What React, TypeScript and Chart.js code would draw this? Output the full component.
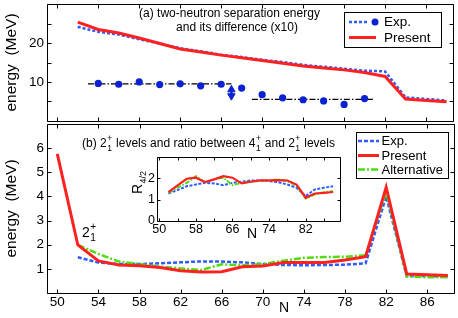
import React, { useEffect, useRef } from 'react';
import { Chart, registerables } from 'chart.js';
Chart.register(...registerables);

const FONT = '"Liberation Sans", Arial, Helvetica, sans-serif';
const RED = '#ff2020';
const BLUE = '#2f5bff';
const DOT = '#0c22d2';
const GREEN = '#4fdc12';

// ---- panel (a): two-neutron separation energy ----
const nS2n = [52, 54, 56, 58, 60, 62, 64, 66, 68, 70, 72, 74, 76, 78, 80, 82, 84, 86, 88];
const s2nExp = [24.2, 22.9, 22.2, 21.0, 19.9, 18.7, 17.9, 17.0, 16.4, 15.7, 15.1, 14.4, 13.9, 13.4, 12.9, 12.7, 6.0, 5.6, 5.2];
const s2nPresent = [25.4, 23.5, 22.6, 21.3, 19.9, 18.5, 17.7, 16.9, 16.2, 15.5, 14.8, 14.1, 13.6, 13.1, 12.4, 11.4, 5.6, 5.2, 4.9];
const nDiff = [54, 56, 58, 60, 62, 64, 66, 68, 70, 72, 74, 76, 78, 80];
const diffExp = [9.6, 9.4, 10.0, 9.3, 9.5, 9.0, 9.4, 8.4, 6.7, 5.9, 5.4, 5.1, 4.2, 5.7];
const plateau1N = [53, 67];
const plateau1Y = [9.5, 9.5];
const plateau2N = [69, 81];
const plateau2Y = [5.5, 5.5];
const arrowN = [67, 67];
const arrowY = [8.0, 6.4];

// ---- panel (b): 2+ levels ----
const nE2Present = [50, 52, 54, 56, 58, 60, 62, 64, 66, 68, 70, 72, 74, 76, 78, 80, 82, 84, 86, 88];
const e2Present = [5.76, 1.99, 1.33, 1.16, 1.13, 1.06, 0.92, 0.87, 0.88, 1.09, 1.12, 1.26, 1.26, 1.26, 1.37, 1.5, 4.38, 0.79, 0.76, 0.72];
const nE2 = [52, 54, 56, 58, 60, 62, 64, 66, 68, 70, 72, 74, 76, 78, 80, 82, 84, 86, 88];
const e2Exp = [1.48, 1.26, 1.2, 1.2, 1.23, 1.27, 1.31, 1.3, 1.27, 1.2, 1.16, 1.15, 1.16, 1.17, 1.23, 4.0, 0.7, 0.7, 0.68];
const e2Alt = [1.99, 1.62, 1.3, 1.2, 1.09, 1.02, 0.95, 1.19, 1.15, 1.2, 1.34, 1.46, 1.49, 1.5, 1.56, 4.2, 0.68, 0.65, 0.65];

// ---- inset: R4/2 ----
const nR = [52, 54, 56, 58, 60, 62, 64, 66, 68, 70, 72, 74, 76, 78, 80, 82, 84, 86, 88];
const rExp = [1.29, 1.45, 1.63, 1.71, 1.79, 1.76, 1.68, 1.79, 1.84, 1.9, 1.9, 1.87, 1.82, 1.71, 1.56, 1.17, 1.48, 1.56, 1.63];
const rPresent = [1.35, 1.67, 1.98, 2.03, 1.82, 1.95, 2.1, 2.03, 1.76, 1.84, 1.9, 1.9, 1.92, 1.9, 1.71, 1.09, 1.29, 1.32, 1.36];
const rAlt = [1.32, 1.56, 1.79, 2.1, 1.82, 1.95, 2.03, 1.68, 1.79, 1.84, 1.88, 1.9, 1.95, 1.87, 1.66, 1.05, 1.25, 1.35, 1.4];

// ---- ticks ----
const xTicksMain = [50, 54, 58, 62, 66, 70, 74, 78, 82, 86];
const yTicksTop = [0, 5, 10, 15, 20, 25, 30];
const yLabelsTop = [10, 20];
const yTicksBottom = [0, 1, 2, 3, 4, 5, 6, 7];
const yLabelsBottom = [1, 2, 3, 4, 5, 6];
const xTicksInset = [50, 54, 58, 62, 66, 70, 74, 78, 82, 86];
const xLabelsInset = [50, 58, 66, 74, 82];
const yTicksInset = [0, 1, 2, 3];
const yLabelsInset = [0, 1, 2];

const xy = (xs: number[], ys: number[]) => xs.map((x, i) => ({ x, y: ys[i] }));

function framePlugin(xTicks: number[], yTicks: number[], tl: number) {
  return {
    id: 'frame' + Math.random(),
    afterDatasetsDraw(chart: any) {
      const { ctx, chartArea: a, scales } = chart;
      const c = (v: number) => Math.round(v) + 0.5;
      ctx.save();
      ctx.strokeStyle = '#000';
      ctx.lineWidth = 1;
      ctx.setLineDash([]);
      const L = c(a.left), R = c(a.right), T = c(a.top), B = c(a.bottom);
      ctx.beginPath();
      ctx.moveTo(L, T); ctx.lineTo(R, T); ctx.lineTo(R, B); ctx.lineTo(L, B); ctx.closePath();
      for (const t of xTicks) {
        const px = c(scales.x.getPixelForValue(t));
        ctx.moveTo(px, B); ctx.lineTo(px, B - tl);
        ctx.moveTo(px, T); ctx.lineTo(px, T + tl);
      }
      for (const t of yTicks) {
        const py = c(scales.y.getPixelForValue(t));
        ctx.moveTo(L, py); ctx.lineTo(L + tl, py);
        ctx.moveTo(R, py); ctx.lineTo(R - tl, py);
      }
      ctx.stroke();
      ctx.restore();
    },
  };
}

type Part = string | { sup: string; sub: string };
function drawRich(ctx: CanvasRenderingContext2D, x: number, y: number, parts: Part[], size: number) {
  let cx = x;
  ctx.textAlign = 'left';
  ctx.textBaseline = 'alphabetic';
  for (const p of parts) {
    if (typeof p === 'string') {
      ctx.font = `${size}px ${FONT}`;
      ctx.fillText(p, cx, y);
      cx += ctx.measureText(p).width;
    } else {
      ctx.font = `${size * 0.72}px ${FONT}`;
      ctx.fillText(p.sup, cx + 0.5, y - size * 0.5);
      ctx.fillText(p.sub, cx + 0.5, y + size * 0.3);
      cx += Math.max(ctx.measureText(p.sup).width, ctx.measureText(p.sub).width) + 1;
    }
  }
}

function drawLegend(ctx: CanvasRenderingContext2D, box: number[], items: any[], size: number) {
  const [x0, y0, x1, y1] = box;
  ctx.save();
  ctx.fillStyle = '#fff';
  ctx.fillRect(x0, y0, x1 - x0, y1 - y0);
  ctx.strokeStyle = '#000';
  ctx.lineWidth = 1;
  ctx.setLineDash([]);
  ctx.strokeRect(Math.round(x0) + 0.5, Math.round(y0) + 0.5, Math.round(x1 - x0), Math.round(y1 - y0));
  for (const it of items) {
    ctx.strokeStyle = it.color;
    ctx.lineWidth = it.width;
    ctx.setLineDash(it.dash);
    ctx.beginPath();
    ctx.moveTo(it.lx0, it.y);
    ctx.lineTo(it.lx1, it.y);
    ctx.stroke();
    if (it.dot) {
      ctx.fillStyle = it.dot;
      ctx.beginPath();
      ctx.arc(it.dotX, it.y, 3.5, 0, Math.PI * 2);
      ctx.fill();
    }
    ctx.setLineDash([]);
    ctx.fillStyle = '#000';
    ctx.font = `${size}px ${FONT}`;
    ctx.textAlign = 'left';
    ctx.textBaseline = 'middle';
    ctx.fillText(it.text, it.tx, it.y + 0.5);
  }
  ctx.restore();
}

const tickFont = { family: FONT, size: 13.5 };

export default function App() {
  const topRef = useRef<HTMLCanvasElement>(null);
  const botRef = useRef<HTMLCanvasElement>(null);
  const insRef = useRef<HTMLCanvasElement>(null);

  useEffect(() => {
    const charts: Chart[] = [];
    const TOP_OFF = -1;
    const BOT_OFF = 118;
    const INS_X = 120, INS_Y = 150;

    // ---------- top panel ----------
    charts.push(
      new Chart(topRef.current as HTMLCanvasElement, {
        type: 'line',
        data: {
          datasets: [
            { label: 'Present', data: xy(nS2n, s2nPresent), borderColor: RED, borderWidth: 3, pointRadius: 0 },
            { label: 'Exp.', data: xy(nS2n, s2nExp), borderColor: BLUE, borderWidth: 2.5, borderDash: [3, 2], pointRadius: 0 },
            {
              label: 'arrow', data: xy(arrowN, arrowY), borderColor: DOT, backgroundColor: DOT, borderWidth: 2.5,
              pointStyle: 'triangle', pointRotation: [0, 180], pointRadius: 4.3, pointBorderWidth: 1, showLine: true,
            },
            {
              label: 'diff', data: xy(nDiff, diffExp), showLine: false, pointRadius: 3.6,
              pointBackgroundColor: DOT, pointBorderColor: DOT, pointBorderWidth: 0,
            },
            { label: 'p1', data: xy(plateau1N, plateau1Y), borderColor: '#000', borderWidth: 1.2, borderDash: [6, 2, 1.5, 2], pointRadius: 0 },
            { label: 'p2', data: xy(plateau2N, plateau2Y), borderColor: '#000', borderWidth: 1.2, borderDash: [6, 2, 1.5, 2], pointRadius: 0 },
          ] as any,
        },
        options: {
          responsive: false,
          animation: false,
          devicePixelRatio: 1,
          layout: { padding: { top: 0, right: 4, bottom: 2, left: 0 } },
          plugins: { legend: { display: false }, tooltip: { enabled: false }, title: { display: false } },
          elements: { line: { tension: 0 } },
          scales: {
            x: { type: 'linear', min: 49, max: 88.6, display: false },
            y: {
              type: 'linear', min: 0, max: 30,
              afterBuildTicks: (s: any) => { s.ticks = yTicksTop.map((v) => ({ value: v })); },
              afterFit: (s: any) => { s.width = 47; s.paddingTop = 0; s.paddingBottom = 0; },
              ticks: {
                autoSkip: false, padding: 3, color: '#000', font: tickFont,
                callback: (v: any) => (yLabelsTop.includes(v) ? String(v) : ''),
              },
              grid: { display: false, drawTicks: false },
              border: { display: false },
              title: { display: true, text: 'energy  (MeV)', color: '#000', font: { family: FONT, size: 15.5 }, padding: { top: 2, bottom: 0 } },
            },
          },
        } as any,
        plugins: [
          framePlugin(xTicksMain, yTicksTop, 4),
          {
            id: 'topDecor',
            afterDraw(chart: any) {
              const ctx = chart.ctx as CanvasRenderingContext2D;
              const o = -TOP_OFF;
              ctx.save();
              ctx.fillStyle = '#000';
              ctx.font = `12px ${FONT}`;
              ctx.textAlign = 'center';
              ctx.textBaseline = 'middle';
              ctx.fillText('(a) two-neutron separation energy', 229.5, 14 + o);
              ctx.fillText('and its difference (x10)', 237, 27.5 + o);
              ctx.restore();
              drawLegend(ctx, [344, 11.5 + o, 441, 46 + o], [
                { text: 'Exp.', color: BLUE, width: 2.5, dash: [3, 2], lx0: 349, lx1: 369, dot: DOT, dotX: 375, tx: 384, y: 22 + o },
                { text: 'Present', color: RED, width: 3, dash: [], lx0: 349, lx1: 376, tx: 384, y: 37.5 + o },
              ], 13.5);
            },
          },
        ],
      } as any)
    );

    // ---------- bottom panel ----------
    charts.push(
      new Chart(botRef.current as HTMLCanvasElement, {
        type: 'line',
        data: {
          datasets: [
            { label: 'Present', data: xy(nE2Present, e2Present), borderColor: RED, borderWidth: 3, pointRadius: 0 },
            { label: 'Alternative', data: xy(nE2, e2Alt), borderColor: GREEN, borderWidth: 2.5, borderDash: [7, 2, 2, 2], pointRadius: 0 },
            { label: 'Exp.', data: xy(nE2, e2Exp), borderColor: BLUE, borderWidth: 2.5, borderDash: [4, 2], pointRadius: 0 },
          ] as any,
        },
        options: {
          responsive: false,
          animation: false,
          devicePixelRatio: 1,
          layout: { padding: { top: 6, right: 4, bottom: 0, left: 0 } },
          plugins: { legend: { display: false }, tooltip: { enabled: false }, title: { display: false } },
          elements: { line: { tension: 0 } },
          scales: {
            x: {
              type: 'linear', min: 49, max: 88.6,
              afterBuildTicks: (s: any) => { s.ticks = xTicksMain.map((v) => ({ value: v })); },
              afterFit: (s: any) => { s.height = 25; s.paddingLeft = 0; s.paddingRight = 0; },
              ticks: { autoSkip: false, maxRotation: 0, padding: 1, color: '#000', font: tickFont },
              grid: { display: false, drawTicks: false },
              border: { display: false },
            },
            y: {
              type: 'linear', min: 0, max: 7,
              afterBuildTicks: (s: any) => { s.ticks = yTicksBottom.map((v) => ({ value: v })); },
              afterFit: (s: any) => { s.width = 47; s.paddingTop = 0; s.paddingBottom = 0; },
              ticks: {
                autoSkip: false, padding: 3, color: '#000', font: tickFont,
                callback: (v: any) => (yLabelsBottom.includes(v) ? String(v) : ''),
              },
              grid: { display: false, drawTicks: false },
              border: { display: false },
              title: { display: true, text: 'energy  (MeV)', color: '#000', font: { family: FONT, size: 15.5 }, padding: { top: 2, bottom: 0 } },
            },
          },
        } as any,
        plugins: [
          framePlugin(xTicksMain, yTicksBottom, 4),
          {
            id: 'botDecor',
            afterDraw(chart: any) {
              const ctx = chart.ctx as CanvasRenderingContext2D;
              const o = -BOT_OFF;
              ctx.save();
              ctx.fillStyle = '#000';
              drawRich(ctx, 82, 147 + o, [
                '(b) 2', { sup: '+', sub: '1' }, ' levels and ratio between 4', { sup: '+', sub: '1' },
                ' and 2', { sup: '+', sub: '1' }, ' levels',
              ], 12);
              drawRich(ctx, 82, 237 + o, ['2', { sup: '+', sub: '1' }], 14);
              ctx.font = `14px ${FONT}`;
              ctx.textAlign = 'center';
              ctx.textBaseline = 'middle';
              ctx.fillText('N', 284, 308.5 + o);
              ctx.restore();
              drawLegend(ctx, [355.5, 131.5 + o, 447, 177 + o], [
                { text: 'Exp.', color: BLUE, width: 2.5, dash: [4, 2], lx0: 358, lx1: 379, tx: 381.5, y: 141 + o },
                { text: 'Present', color: RED, width: 3, dash: [], lx0: 358, lx1: 379, tx: 381.5, y: 155.5 + o },
                { text: 'Alternative', color: GREEN, width: 2.5, dash: [7, 2, 2, 2], lx0: 358, lx1: 379, tx: 381.5, y: 169.5 + o },
              ], 13);
            },
          },
        ],
      } as any)
    );

    // ---------- inset ----------
    charts.push(
      new Chart(insRef.current as HTMLCanvasElement, {
        type: 'line',
        data: {
          datasets: [
            { label: 'Present', data: xy(nR, rPresent), borderColor: RED, borderWidth: 2.2, pointRadius: 0 },
            { label: 'Alternative', data: xy(nR, rAlt), borderColor: GREEN, borderWidth: 2, borderDash: [5, 1.5, 1.5, 1.5], pointRadius: 0 },
            { label: 'Exp.', data: xy(nR, rExp), borderColor: BLUE, borderWidth: 2, borderDash: [3, 1.5], pointRadius: 0 },
          ] as any,
        },
        options: {
          responsive: false,
          animation: false,
          devicePixelRatio: 1,
          layout: { padding: { top: 7, right: 5, bottom: 0, left: 0 } },
          plugins: { legend: { display: false }, tooltip: { enabled: false }, title: { display: false } },
          elements: { line: { tension: 0 } },
          scales: {
            x: {
              type: 'linear', min: 49.5, max: 89.5,
              afterBuildTicks: (s: any) => { s.ticks = xTicksInset.map((v) => ({ value: v })); },
              afterFit: (s: any) => { s.height = 21; s.paddingLeft = 0; s.paddingRight = 0; },
              ticks: {
                autoSkip: false, maxRotation: 0, padding: 1, color: '#000', font: { family: FONT, size: 12.5 },
                callback: (v: any) => (xLabelsInset.includes(v) ? String(v) : ''),
              },
              grid: { display: false, drawTicks: false },
              border: { display: false },
            },
            y: {
              type: 'linear', min: 0, max: 3,
              afterBuildTicks: (s: any) => { s.ticks = yTicksInset.map((v) => ({ value: v })); },
              afterFit: (s: any) => { s.width = 37; s.paddingTop = 0; s.paddingBottom = 0; },
              ticks: {
                autoSkip: false, padding: 2, color: '#000', font: { family: FONT, size: 12.5 },
                callback: (v: any) => (yLabelsInset.includes(v) ? String(v) : ''),
              },
              grid: { display: false, drawTicks: false },
              border: { display: false },
            },
          },
        } as any,
        plugins: [
          {
            id: 'insBg',
            beforeDraw(chart: any) {
              const { ctx, chartArea: a } = chart;
              ctx.save();
              ctx.fillStyle = '#fff';
              ctx.fillRect(a.left, a.top, a.right - a.left, a.bottom - a.top);
              ctx.restore();
            },
          },
          framePlugin(xTicksInset, yTicksInset, 3),
          {
            id: 'insDecor',
            afterDraw(chart: any) {
              const ctx = chart.ctx as CanvasRenderingContext2D;
              ctx.save();
              ctx.fillStyle = '#000';
              ctx.translate(142 - INS_X, 194 - INS_Y);
              ctx.rotate(-Math.PI / 2);
              ctx.textAlign = 'left';
              ctx.textBaseline = 'alphabetic';
              ctx.font = `14px ${FONT}`;
              ctx.fillText('R', 0, 0);
              const w = ctx.measureText('R').width;
              ctx.font = `9px ${FONT}`;
              ctx.fillText('4/2', w + 0.5, 3.5);
              ctx.restore();
              ctx.save();
              ctx.fillStyle = '#000';
              ctx.font = `14px ${FONT}`;
              ctx.textAlign = 'center';
              ctx.textBaseline = 'middle';
              ctx.fillText('N', 252 - INS_X, 234 - INS_Y);
              ctx.restore();
            },
          },
        ],
      } as any)
    );

    return () => charts.forEach((c) => c.destroy());
  }, []);

  return (
    <div style={{ position: 'absolute', left: 0, top: 0, width: 458, height: 318, background: '#fff', overflow: 'hidden' }}>
      <canvas ref={topRef} width={458} height={127} style={{ position: 'absolute', left: 0, top: -1, width: 458, height: 127 }} />
      <canvas ref={botRef} width={458} height={200} style={{ position: 'absolute', left: 0, top: 118, width: 458, height: 200 }} />
      <canvas ref={insRef} width={225} height={92} style={{ position: 'absolute', left: 120, top: 150, width: 225, height: 92 }} />
    </div>
  );
}
